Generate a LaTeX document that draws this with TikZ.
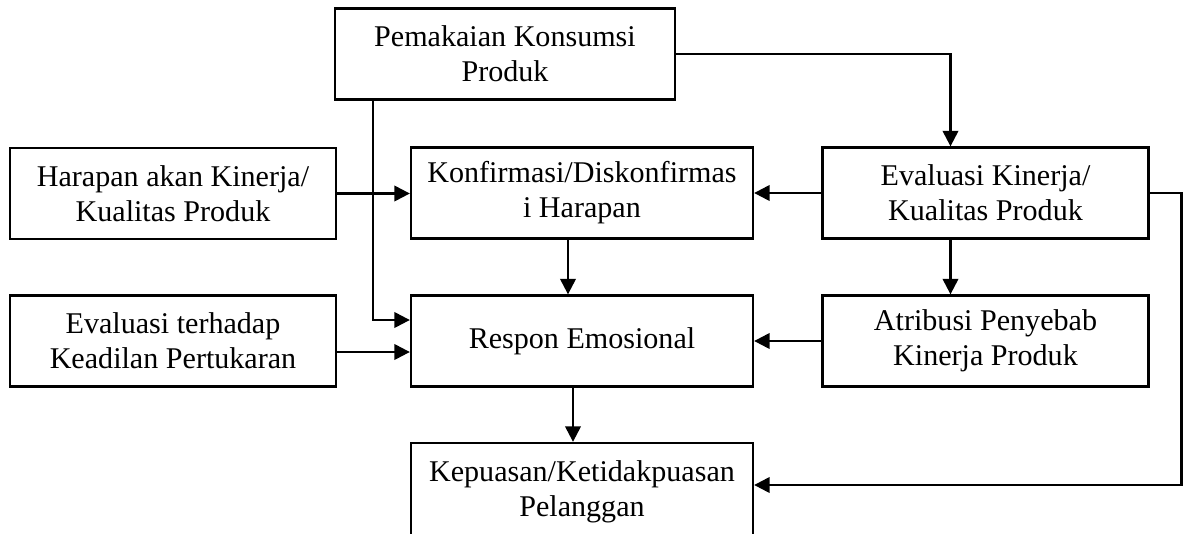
\documentclass[tikz,border=0pt]{standalone}
\usepackage{fontspec}
\setmainfont{Liberation Serif}
\usepackage{tikz}
\usetikzlibrary{arrows.meta,calc}
\newcommand{\pxu}{0.3855pt}
\tikzset{
  every picture/.style={line width=0.9pt},
  flowbox/.style={
    draw=black,
    align=center,
    font=\fontsize{11.6pt}{13.5pt}\selectfont,
    minimum height=91*\pxu,
    inner sep=2pt
  },
  midbox/.style={flowbox, minimum width=342*\pxu},
  sidebox/.style={flowbox, minimum width=326*\pxu},
  flowarrow/.style={-{Triangle[length=6pt,width=6pt]}, draw=black}
}

\begin{document}
\begin{tikzpicture}[x=0.01355cm, y=-0.01355cm]
  \useasboundingbox (0,0) rectangle (1186,533);

  \node[flowbox, minimum width=340*\pxu] (pakai) at (505,54) {Pemakaian Konsumsi\\Produk};
  \node[sidebox] (harapan) at (173,193.5) {Harapan akan Kinerja/\\Kualitas Produk};
  \node[midbox] (konf) at (582,193) {Konfirmasi/Diskonfirmas\\i Harapan};
  \node[sidebox] (evalkin) at (985.5,193) {Evaluasi Kinerja/\\Kualitas Produk};
  \node[sidebox] (keadilan) at (173,341) {Evaluasi terhadap\\Keadilan Pertukaran};
  \node[midbox] (respon) at (582,341) {Respon Emosional};
  \node[sidebox] (atribusi) at (985.5,341) {Atribusi Penyebab\\Kinerja Produk};
  \node[midbox, minimum height=98*\pxu] (puas) at (582,492) {Kepuasan/Ketidakpuasan\\Pelanggan};

  % arrows
  \draw[flowarrow] (pakai.east) -| ($(evalkin.north)+(-35,0)$);
  \draw[flowarrow] ($(pakai.south)+(-132,0)$) |- ($(respon.west)+(0,-21)$);
  \draw[flowarrow] (harapan.east) -- (harapan.east -| konf.west);
  \draw[flowarrow] (evalkin.west) -- (konf.east);
  \draw[flowarrow] ($(keadilan.east)+(0,11)$) -- ($(respon.west)+(0,11)$);
  \draw[flowarrow] ($(konf.south)+(-14,0)$) -- ($(respon.north)+(-14,0)$);
  \draw[flowarrow] ($(evalkin.south)+(-35,0)$) -- ($(atribusi.north)+(-35,0)$);
  \draw[flowarrow] (atribusi.west) -- (respon.east);
  \draw[flowarrow] ($(respon.south)+(-9,0)$) -- ($(puas.north)+(-9,0)$);
  \draw[flowarrow] (evalkin.east) -- ++(32,0) |- ($(puas.east)+(0,-7)$);
\end{tikzpicture}
\end{document}
